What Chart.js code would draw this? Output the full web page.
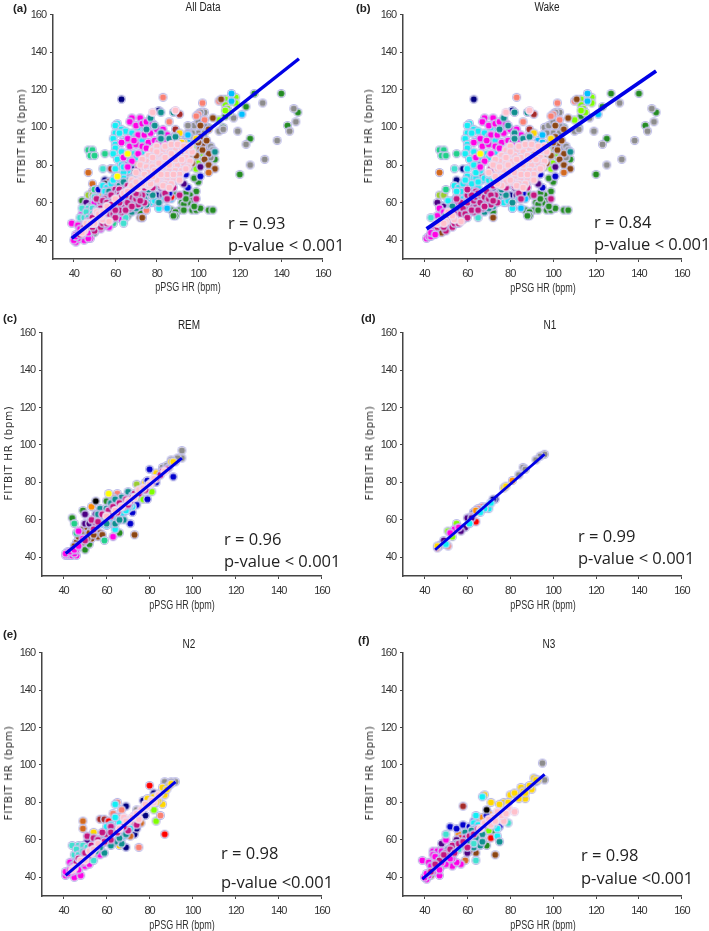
<!DOCTYPE html>
<html>

<head>
    <title>FITBIT vs pPSG HR</title>
    <script src="https://cdn.jsdelivr.net/npm/chart.js@4/dist/chart.umd.js"></script>
    <style>
        body {
            margin: 0;
            background-color: white;
            color: #333;
        }

        #page {
            position: relative;
            width: 709px;
            height: 931px;
            overflow: hidden;
        }

        canvas {
            position: absolute;
        }

        .note {
            position: absolute;
            font-family: "Open Sans", sans-serif;
            font-size: 16.5px;
            line-height: 20px;
            white-space: nowrap;
            color: #222;
        }

        .heading {
            position: absolute;
            font-family: "Liberation Sans", sans-serif;
            font-size: 12.5px;
            line-height: 14px;
            transform: translateX(-50%) scaleX(0.8);
            white-space: nowrap;
            color: #222;
        }

        .xname {
            position: absolute;
            font-family: "Liberation Sans", sans-serif;
            font-size: 12.5px;
            line-height: 12px;
            transform: translateX(-50%) scaleX(0.72);
            white-space: nowrap;
            color: #333;
        }

        .yname {
            position: absolute;
            font-family: "DejaVu Sans", sans-serif;
            font-size: 10.5px;
            line-height: 12px;
            letter-spacing: 0.6px;
            transform: translate(-50%, -50%) rotate(-90deg);
            white-space: nowrap;
            color: #333;
        }

        .tag {
            position: absolute;
            font-family: "Liberation Sans", sans-serif;
            font-weight: bold;
            font-size: 11.5px;
            line-height: 12px;
            color: #222;
        }
    </style>
</head>

<body>
    <div id="page"></div>

    <script>
        const tickValues = [40, 60, 80, 100, 120, 140, 160]

        // Wake epochs, [pPSG, FITBIT]
        const wakeMagenta = [[68, 105], [72, 105], [67, 103], [70, 101], [73, 102], [76, 101], [66, 94], [71, 96], [74, 96], [77, 97], [80, 99], [83, 99], [85, 96], [63, 92], [67, 90], [70, 91], [73, 90], [76, 92], [79, 93], [82, 96], [64, 84], [68, 82], [71, 86], [75, 84], [78, 88], [66, 79], [72, 79], [46, 53], [47, 57], [52, 56], [49, 55], [44, 44], [45, 46], [48, 50], [55, 60], [41, 41], [42, 42], [43, 42], [43, 44], [45, 43], [75, 103], [78, 102], [69, 93], [75, 89], [81, 92], [74, 81], [77, 84], [84, 93]]
        const wakeCyan = [[61, 102], [60, 101], [63, 99], [65, 98], [71, 100], [60, 97], [59, 94], [62, 97], [68, 97], [74, 99], [70, 95], [60, 91], [64, 93], [60, 89], [59, 86], [63, 87], [69, 86], [73, 86], [70, 84], [73, 93], [61, 83], [60, 78], [63, 80], [66, 84], [60, 74], [63, 73], [67, 72], [68, 73], [70, 72], [65, 77], [64, 73], [66, 77], [72, 72], [75, 69], [78, 77], [54, 69], [56, 68], [59, 65], [61, 68], [58, 70], [57, 66], [62, 70], [65, 68], [53, 61], [55, 63], [51, 61], [58, 62], [77, 60], [81, 57], [79, 61], [84, 62], [70, 68], [64, 76], [70, 75], [76, 73], [59, 72], [65, 71], [55, 66], [60, 62], [63, 63], [54, 58], [52, 57], [78, 72], [74, 71]]
        const wakeTeal = [[82, 108], [88, 108], [77, 105], [79, 101], [75, 99], [82, 97], [86, 94], [89, 95], [82, 94], [80, 88], [108, 87], [66, 62], [69, 60], [64, 56], [58, 55], [53, 58], [72, 63], [75, 65], [72, 58], [61, 59], [56, 52], [68, 55], [81, 60], [78, 64], [55, 55], [57, 57], [59, 56], [62, 56], [65, 60], [67, 58], [70, 57], [74, 62], [76, 67], [50, 53], [52, 50]]
        const wakeViolet = [[46, 47], [48, 48], [51, 49], [50, 45], [53, 50], [55, 52], [58, 51], [52, 53], [56, 56], [61, 55], [59, 58], [62, 59], [64, 58], [65, 62], [67, 57], [69, 61], [71, 59], [61, 62], [57, 60], [63, 55], [67, 65], [70, 65], [73, 64], [74, 60], [64, 66], [60, 64], [72, 69], [75, 74], [71, 78], [82, 69], [84, 65], [88, 68], [91, 64], [85, 62], [99, 62], [78, 68], [55, 62], [47, 50], [49, 47], [51, 52], [53, 47], [54, 49], [54, 54], [56, 49], [57, 54], [58, 57], [59, 54], [60, 52], [60, 60], [62, 56], [63, 61], [64, 63], [65, 56], [66, 60], [66, 64], [68, 58], [68, 63], [69, 66], [70, 62], [71, 64], [72, 61], [65, 65], [62, 64], [60, 67]]
        const wakeForest = [[127, 118], [140, 118], [143, 101], [148, 108], [125, 94], [120, 75], [123, 111], [113, 106], [112, 100], [105, 100], [108, 83], [96, 79], [100, 71], [99, 66], [96, 64], [94, 65], [97, 61], [95, 60], [89, 64], [92, 60], [93, 59], [91, 56], [93, 56], [87, 56], [89, 55], [89, 53], [88, 53], [97, 56], [99, 56], [101, 57], [105, 56], [107, 56], [94, 62], [98, 58], [47, 59], [65, 58], [72, 55], [98, 73]]
        const wakeGray = [[131, 113], [146, 110], [147, 103], [144, 98], [138, 93], [132, 83], [125, 80], [123, 91], [119, 98], [117, 105], [110, 98], [112, 99], [103, 108], [101, 108], [96, 100], [98, 101], [103, 101], [100, 97], [89, 96], [105, 89], [104, 83], [99, 92], [106, 84], [100, 103], [103, 97], [106, 90], [97, 97], [102, 85], [107, 88]]
        const wakeLime = [[113, 115], [113, 112], [114, 110], [118, 116], [118, 113], [115, 108], [113, 109], [110, 104], [98, 91], [98, 86], [100, 88], [99, 83], [97, 89], [100, 81], [102, 84], [96, 85], [99, 78], [94, 90], [96, 88], [101, 86], [103, 93], [91, 85]]
        const wakeBrown = [[111, 115], [107, 105], [101, 101], [105, 99], [101, 95], [101, 89], [102, 91], [105, 86], [103, 83], [105, 80], [108, 78], [99, 85], [97, 81], [72, 52], [46, 45], [52, 48], [48, 44], [85, 79], [90, 74], [102, 88], [104, 93], [100, 92], [96, 86], [84, 74], [87, 71]]
        const wakeChoc = [[47, 76], [55, 49], [105, 76], [62, 68], [50, 54]]
        const wakeSky = [[116, 118], [116, 114], [121, 107], [93, 93], [95, 96], [95, 92], [87, 62], [85, 57], [81, 57], [83, 67], [91, 91]]
        const wakeSalmon = [[83, 116], [86, 103], [102, 113], [100, 107], [99, 106], [103, 104], [110, 114], [78, 60], [92, 87]]
        const wakeNavy = [[63, 115], [81, 109], [55, 72], [58, 78], [76, 63], [72, 68], [80, 64], [88, 72], [84, 77], [76, 71]]
        const wakeBlue = [[101, 74], [95, 68], [86, 65], [83, 63], [89, 74], [81, 78], [85, 86], [66, 80], [73, 76], [94, 75]]
        const wakeIndigo = [[49, 58], [101, 79], [91, 78], [89, 73], [91, 72], [82, 68], [83, 64], [86, 70], [93, 70], [72, 76], [46, 60]]
        const wakeMaroon = [[91, 107], [89, 99], [67, 74], [85, 76]]
        const wakeGold = [[91, 97], [99, 94], [94, 88]]
        const wakeYellow = [[66, 86]]
        const wakeOlive = [[47, 64], [49, 64], [78, 63], [93, 82]]
        const wakeSpring = [[47, 88], [49, 88], [48, 85], [50, 85], [55, 86], [50, 67]]
        const wakeTurq = [[54, 78], [43, 52], [55, 55], [65, 52], [60, 60]]
        const wakePink = [[78, 108], [89, 109], [78, 88], [80, 90], [83, 88], [86, 87], [89, 89], [92, 89], [95, 87], [76, 85], [79, 85], [82, 85], [85, 84], [88, 85], [91, 84], [94, 84], [97, 87], [75, 82], [78, 81], [81, 82], [84, 81], [87, 81], [90, 80], [93, 81], [96, 82], [74, 78], [77, 77], [80, 78], [83, 78], [86, 77], [89, 77], [92, 77], [76, 74], [79, 74], [82, 74], [85, 73], [88, 73], [91, 75], [78, 71], [81, 71], [84, 70], [87, 70], [73, 74], [70, 76], [46, 49], [50, 50], [54, 51], [51, 55], [73, 83], [72, 80], [84, 90], [87, 91], [90, 91], [93, 90], [96, 90], [80, 87], [83, 83], [86, 80], [89, 83], [92, 83], [95, 79], [78, 84], [75, 79], [79, 80], [82, 76], [85, 75], [88, 75], [91, 72], [94, 78], [80, 72], [83, 69], [86, 68], [76, 69], [74, 70], [49, 49], [53, 53], [57, 50]]

        const wakeGroups = [['#ff00e6', wakeMagenta], ['#12eef5', wakeCyan], ['#0f8f8f', wakeTeal], ['#c4157f', wakeViolet], ['#238b23', wakeForest], ['#8c8c8c', wakeGray], ['#7fff00', wakeLime], ['#8b4513', wakeBrown], ['#d2691e', wakeChoc], ['#00bfff', wakeSky], ['#fa8072', wakeSalmon], ['#000080', wakeNavy], ['#0000cd', wakeBlue], ['#4b0082', wakeIndigo], ['#a52a2a', wakeMaroon], ['#ffd700', wakeGold], ['#ffff00', wakeYellow], ['#9acd32', wakeOlive], ['#20d08a', wakeSpring], ['#40e0d0', wakeTurq], ['#ffc0cb', wakePink]]

        // REM, panel (c)
        const remMagenta = [[41, 41], [42, 41], [43, 41], [44, 41], [46, 41], [42, 43], [44, 43], [45, 42], [47, 54], [63, 51], [41, 42], [46, 44], [43, 43], [45, 44], [47, 46], [49, 50]]
        const remBrown = [[47, 53], [49, 55], [51, 56], [53, 55], [55, 56], [57, 53], [56, 51], [53, 50], [50, 52], [48, 50], [46, 48], [45, 46], [52, 53], [73, 52], [58, 52], [49, 48], [51, 50], [54, 52], [48, 53], [47, 51]]
        const remCyan = [[57, 64], [64, 55], [59, 60], [62, 58], [65, 60], [68, 64], [72, 67], [61, 62], [66, 62], [70, 66], [56, 60], [58, 58], [60, 57], [63, 60], [67, 63], [69, 65], [71, 68]]
        const remTeal = [[57, 66], [60, 66], [62, 69], [65, 66], [67, 72], [70, 75], [68, 60], [64, 58], [60, 58], [56, 63], [59, 62], [63, 64], [64, 71], [69, 69], [72, 73], [66, 60]]
        const remViolet = [[58, 63], [61, 65], [63, 67], [66, 69], [69, 71], [71, 70], [73, 74], [76, 76], [79, 78], [86, 86], [55, 58], [53, 60], [50, 49], [54, 55], [56, 59], [62, 62], [65, 64], [68, 67], [70, 68], [72, 72], [75, 74], [78, 76], [81, 80], [83, 82], [85, 84], [88, 87]]
        const remForest = [[44, 61], [49, 65], [60, 70], [66, 53], [50, 44], [52, 47]]
        const remGray = [[95, 97], [95, 93], [86, 88], [88, 89], [92, 91], [84, 84], [93, 93], [90, 92], [89, 88]]
        const remGold = [[90, 91], [91, 91], [83, 85], [78, 80]]
        const remBlue = [[80, 87], [79, 81], [83, 80], [79, 71], [72, 64], [71, 58], [91, 83], [74, 68]]
        const remIndigo = [[50, 63], [50, 58], [56, 61], [64, 70], [55, 63], [60, 64], [52, 58]]
        const remLime = [[81, 75], [75, 72], [77, 71]]
        const remOlive = [[74, 79], [67, 69]]
        const remYellow = [[61, 74]]
        const remSalmon = [[65, 74], [63, 72]]
        const remBlack = [[55, 70]]
        const remOrange = [[53, 67]]
        const remTurq = [[59, 49], [46, 53], [45, 58]]
        const remPink = [[60, 62], [64, 65], [67, 67], [70, 70], [73, 72], [75, 76], [77, 77], [80, 79], [82, 82], [87, 86]]
        const remGroups = [['#ff00e6', remMagenta], ['#8b4513', remBrown], ['#0f8f8f', remTeal], ['#12eef5', remCyan], ['#c4157f', remViolet], ['#238b23', remForest], ['#8c8c8c', remGray], ['#ffd700', remGold], ['#0000cd', remBlue], ['#4b0082', remIndigo], ['#7fff00', remLime], ['#9acd32', remOlive], ['#ffff00', remYellow], ['#fa8072', remSalmon], ['#000000', remBlack], ['#ff8c00', remOrange], ['#20d08a', remTurq], ['#ffc0cb', remPink]]

        // N1, panel (d)
        const n1Gray = [[96, 95], [94, 94], [86, 88], [84, 84], [63, 64], [92, 92], [48, 47], [47, 46], [87, 87]]
        const n1Orange = [[81, 81], [64, 65]]
        const n1Gold = [[77, 77], [46, 46], [78, 78]]
        const n1Navy = [[73, 71], [72, 71], [63, 64]]
        const n1Black = [[69, 67]]
        const n1Cyan = [[70, 66], [61, 58], [50, 47], [68, 66], [66, 64], [71, 69]]
        const n1Red = [[64, 59]]
        const n1Salmon = [[67, 67], [65, 66], [51, 46], [46, 45], [62, 62]]
        const n1Indigo = [[60, 61], [62, 61], [59, 56], [57, 54], [49, 49]]
        const n1Lime = [[55, 58], [51, 54], [53, 51]]
        const n1Magenta = [[54, 55], [56, 56], [52, 53]]
        const n1Groups = [['#8c8c8c', n1Gray], ['#ff8c00', n1Orange], ['#ffd700', n1Gold], ['#000080', n1Navy], ['#000000', n1Black], ['#12eef5', n1Cyan], ['#fa8072', n1Salmon], ['#4b0082', n1Indigo], ['#7fff00', n1Lime], ['#ff00e6', n1Magenta], ['#ff0000', n1Red]]

        // N2, panel (e)
        const n2Magenta = [[41, 41], [45, 40], [48, 41], [44, 43], [46, 47], [43, 48], [48, 54], [42, 42], [44, 46], [47, 44], [50, 46], [57, 52], [46, 50], [41, 43], [43, 44], [45, 47], [49, 48], [52, 47], [54, 53]]
        const n2Turq = [[44, 57], [47, 57], [45, 52], [54, 49], [46, 55], [49, 57], [47, 52], [49, 54], [50, 50], [51, 56]]
        const n2Cyan = [[64, 79], [60, 67], [62, 68], [68, 69], [66, 69], [64, 72], [68, 62], [55, 53], [71, 66]]
        const n2Teal = [[67, 58], [64, 59], [62, 57], [59, 53], [66, 61], [64, 65], [58, 58], [61, 62], [69, 63], [60, 60], [57, 56], [55, 54], [52, 50]]
        const n2Violet = [[51, 62], [54, 61], [60, 63], [57, 60], [74, 68], [70, 65], [62, 67], [52, 52], [55, 56], [49, 50], [58, 64], [62, 60], [46, 48], [50, 53], [53, 57], [56, 60], [59, 59], [62, 64], [65, 64], [68, 67], [47, 50]]
        const n2Gold = [[86, 79], [84, 81], [79, 82], [89, 89], [87, 84], [82, 83], [85, 85], [66, 57], [54, 64], [86, 88], [88, 87], [83, 80], [90, 90]]
        const n2Lime = [[83, 70], [82, 76], [80, 81]]
        const n2Gray = [[87, 91], [92, 91], [90, 91], [74, 76]]
        const n2Red = [[80, 89], [87, 63], [61, 70]]
        const n2Navy = [[82, 85], [69, 56], [69, 78], [77, 81], [78, 73], [73, 63], [74, 66], [66, 70]]
        const n2Salmon = [[75, 56], [65, 80], [67, 76], [85, 73], [66, 72], [63, 74], [72, 68]]
        const n2Choc = [[49, 70], [49, 66], [71, 62], [76, 69]]
        const n2Maroon = [[57, 71], [59, 71]]
        const n2Indigo = [[51, 59]]
        const n2Brown = [[51, 47]]
        const n2Pink = [[70, 70], [73, 73], [76, 76], [79, 78], [82, 80], [68, 72], [75, 71], [45, 45], [50, 49], [53, 53], [72, 72], [78, 79], [81, 81], [84, 84], [74, 74], [69, 70], [66, 66], [44, 44], [48, 49], [52, 54], [54, 55], [56, 58]]
        const n2Groups = [['#ff00e6', n2Magenta], ['#40e0d0', n2Turq], ['#0f8f8f', n2Teal], ['#c4157f', n2Violet], ['#ffc0cb', n2Pink], ['#ffd700', n2Gold], ['#7fff00', n2Lime], ['#8c8c8c', n2Gray], ['#000080', n2Navy], ['#fa8072', n2Salmon], ['#d2691e', n2Choc], ['#a52a2a', n2Maroon], ['#4b0082', n2Indigo], ['#8b4513', n2Brown], ['#12eef5', n2Cyan], ['#ff0000', n2Red]]

        // N3, panel (f)
        const n3Magenta = [[39, 49], [42, 48], [44, 54], [46, 54], [48, 54], [50, 60], [47, 41], [41, 39], [53, 46], [57, 47], [55, 48], [44, 52], [51, 54], [42, 41], [40, 40], [44, 43], [46, 47], [49, 50], [53, 50], [41, 42], [43, 46], [47, 44], [50, 47], [52, 50], [45, 51], [48, 48]]
        const n3Gray = [[95, 101], [96, 92], [92, 91]]
        const n3Gold = [[91, 93], [87, 82], [80, 84], [71, 80], [77, 80], [88, 88], [83, 84], [90, 87], [85, 88], [68, 84], [64, 70], [93, 92], [82, 85], [84, 82], [86, 86], [89, 89], [79, 80], [92, 92], [87, 85], [75, 79]]
        const n3Cyan = [[67, 83], [64, 73], [63, 69], [74, 62], [74, 66], [63, 66], [65, 68], [60, 62], [72, 68]]
        const n3Teal = [[75, 59], [59, 64], [65, 59], [67, 63], [62, 61], [60, 59], [51, 55], [63, 56], [66, 57], [55, 58], [58, 57], [64, 61], [61, 58], [67, 59], [62, 65]]
        const n3Turq = [[79, 69], [64, 49], [63, 58], [50, 63], [56, 55]]
        const n3Maroon = [[58, 78]]
        const n3Black = [[69, 76]]
        const n3Pink = [[82, 75], [77, 70], [74, 75], [72, 72], [76, 73], [79, 77], [71, 68], [68, 69], [70, 71], [73, 70], [78, 74], [66, 66]]
        const n3Navy = [[75, 67], [52, 67], [55, 66], [58, 68], [61, 67], [63, 70], [69, 73]]
        const n3Forest = [[69, 57], [72, 65]]
        const n3Lime = [[67, 60], [70, 65]]
        const n3Red = [[71, 61], [57, 61]]
        const n3Brown = [[73, 52], [64, 53], [61, 54], [46, 44], [48, 46], [45, 46], [50, 49], [43, 41], [47, 47]]
        const n3Choc = [[59, 49]]
        const n3Orange = [[67, 72], [70, 74], [56, 63]]
        const n3Indigo = [[48, 58], [55, 60], [57, 57], [60, 53], [47, 51]]
        const n3Violet = [[53, 57], [56, 58], [59, 61], [50, 53], [47, 49], [60, 56], [43, 43], [45, 47], [49, 52], [52, 55], [54, 53], [58, 59], [61, 62], [63, 63], [65, 66], [68, 68]]
        const n3Groups = [['#ff00e6', n3Magenta], ['#8c8c8c', n3Gray], ['#ffd700', n3Gold], ['#0f8f8f', n3Teal], ['#40e0d0', n3Turq], ['#c4157f', n3Violet], ['#a52a2a', n3Maroon], ['#ffc0cb', n3Pink], ['#0000cd', n3Navy], ['#238b23', n3Forest], ['#7fff00', n3Lime], ['#ff0000', n3Red], ['#8b4513', n3Brown], ['#d2691e', n3Choc], ['#ff8c00', n3Orange], ['#4b0082', n3Indigo], ['#12eef5', n3Cyan], ['#000000', n3Black]]

        // fit lines
        const allFit = [[39, 41], [148.5, 136.5]]
        const wakeFit = [[41, 46], [148, 130]]
        const remFit = [[41, 42], [95, 93]]
        const n1Fit = [[45, 44], [96, 95]]
        const n2Fit = [[41, 41], [92, 91]]
        const n3Fit = [[39, 39], [96, 95]]

        // the all data panel is every stage put together
        const allGroups = [...wakeGroups, ...remGroups, ...n1Groups, ...n2Groups, ...n3Groups]

        // bottom to top
        const stackOrder = ['#238b23', '#8c8c8c', '#000080', '#7fff00', '#00bfff', '#fa8072', '#a52a2a', '#8b4513', '#d2691e', '#ff8c00', '#ffd700', '#ff0000', '#9acd32', '#20d08a', '#0000cd', '#4b0082', '#000000', '#12eef5', '#ff00e6', '#0f8f8f', '#40e0d0', '#c4157f', '#ffc0cb', '#ffff00']

        const panels = [
            { tag: '(a)', tagX: 13, tagY: 2, title: 'All Data', titleX: 203, titleY: 0, left: 53, right: 323, top: 12, bottom: 259, yNameX: 21, xNameX: 188, xNameY: 281, groups: allGroups, fit: allFit, lineW: 3.4, note: ['r = 0.93', 'p-value < 0.001'], noteX: 228, noteY: [213, 235] },
            { tag: '(b)', tagX: 356, tagY: 2, title: 'Wake', titleX: 547, titleY: 0, left: 403, right: 682, top: 12, bottom: 259, yNameX: 368, xNameX: 543, xNameY: 282, groups: wakeGroups, fit: wakeFit, lineW: 3.8, note: ['r = 0.84', 'p-value < 0.001'], noteX: 594, noteY: [212, 234] },
            { tag: '(c)', tagX: 3, tagY: 312, title: 'REM', titleX: 189, titleY: 318, left: 42, right: 322, top: 330, bottom: 576, yNameX: 8, xNameX: 182, xNameY: 599, groups: remGroups, fit: remFit, lineW: 3, note: ['r = 0.96', 'p-value < 0.001'], noteX: 224, noteY: [529, 551] },
            { tag: '(d)', tagX: 361, tagY: 312, title: 'N1', titleX: 550, titleY: 318, left: 403, right: 682, top: 330, bottom: 576, yNameX: 369, xNameX: 543, xNameY: 599, groups: n1Groups, fit: n1Fit, lineW: 2.8, note: ['r = 0.99', 'p-value < 0.001'], noteX: 578, noteY: [526, 548] },
            { tag: '(e)', tagX: 3, tagY: 628, title: 'N2', titleX: 189, titleY: 637, left: 42, right: 322, top: 650, bottom: 896, yNameX: 8, xNameX: 182, xNameY: 919, groups: n2Groups, fit: n2Fit, lineW: 3, note: ['r = 0.98', 'p-value <0.001'], noteX: 221, noteY: [843, 872] },
            { tag: '(f)', tagX: 358, tagY: 634, title: 'N3', titleX: 549, titleY: 637, left: 403, right: 682, top: 650, bottom: 896, yNameX: 369, xNameX: 543, xNameY: 919, groups: n3Groups, fit: n3Fit, lineW: 3, note: ['r = 0.98', 'p-value <0.001'], noteX: 581, noteY: [845, 868] },
        ]

        const page = document.getElementById('page')
        const markers = {}

        // coloured dot, white rim, lavender halo
        function markerFor(color) {
            if (markers[color]) return markers[color]
            const c = document.createElement('canvas')
            c.width = 11
            c.height = 11
            const g = c.getContext('2d')
            const ring = (r, fill) => {
                g.beginPath()
                g.arc(5.5, 5.5, r, 0, Math.PI * 2)
                g.fillStyle = fill
                g.fill()
            }
            ring(4.5, color === '#ffc0cb' ? '#e6d2ec' : '#b4b4e6')
            ring(3.6, '#f8f4fa')
            ring(3.1, color)
            markers[color] = c
            return c
        }

        function addText(cls, text, x, y) {
            const d = document.createElement('div')
            d.className = cls
            d.textContent = text
            d.style.left = x + 'px'
            d.style.top = y + 'px'
            page.appendChild(d)
        }

        // same colour from several stages becomes one dataset
        function mergeGroups(groups) {
            return stackOrder
                .map(color => [color, groups.filter(g => g[0] === color).flatMap(g => g[1])])
                .filter(g => g[1].length > 0)
        }

        function axis(isY) {
            return {
                type: 'linear',
                min: 30,
                max: 160,
                afterBuildTicks: s => { s.ticks = tickValues.map(v => ({ value: v })) },
                afterFit: s => {
                    if (isY) s.width = 40
                    else s.height = 35
                },
                grid: { drawOnChartArea: false, drawTicks: true, tickLength: 3, color: '#444', lineWidth: 1 },
                border: { display: true, color: '#444', width: 1.5 },
                ticks: {
                    autoSkip: false,
                    maxRotation: 0,
                    padding: isY ? 4 : 5,
                    color: '#333',
                    font: { family: '"Liberation Sans", sans-serif', size: 11 },
                    callback: v => v,
                },
            }
        }

        // tick labels are condensed in the picture
        const tightText = {
            id: 'tightText',
            beforeDraw: chart => { chart.ctx.letterSpacing = '-1px' },
        }

        panels.forEach(p => {
            const canvas = document.createElement('canvas')
            const w = p.right - p.left + 40 + 14
            const h = p.bottom - p.top + 8 + 35
            canvas.width = w
            canvas.height = h
            canvas.style.left = (p.left - 40) + 'px'
            canvas.style.top = (p.top - 8) + 'px'
            canvas.style.width = w + 'px'
            canvas.style.height = h + 'px'
            page.appendChild(canvas)

            const merged = mergeGroups(p.groups)
            const datasets = merged.map(([color, points], i) => ({
                type: 'scatter',
                data: points,
                pointStyle: markerFor(color),
                pointRadius: 4,
                order: merged.length - i,
            }))
            datasets.push({
                type: 'line',
                data: p.fit,
                borderColor: '#0000e6',
                borderWidth: p.lineW,
                pointRadius: 0,
                order: 0,
            })

            new Chart(canvas, {
                type: 'scatter',
                data: { datasets },
                plugins: [tightText],
                options: {
                    responsive: false,
                    animation: false,
                    layout: { padding: { top: 8, right: 14, left: 0, bottom: 0 } },
                    plugins: { legend: { display: false }, tooltip: { enabled: false } },
                    scales: { x: axis(false), y: axis(true) },
                },
            })

            addText('tag', p.tag, p.tagX, p.tagY)
            addText('heading', p.title, p.titleX, p.titleY)
            addText('xname', 'pPSG HR (bpm)', p.xNameX, p.xNameY)
            addText('yname', 'FITBIT HR (bpm)', p.yNameX, (p.top + p.bottom) / 2)
            addText('note', p.note[0], p.noteX, p.noteY[0])
            addText('note', p.note[1], p.noteX, p.noteY[1])
        })
    </script>
</body>

</html>
